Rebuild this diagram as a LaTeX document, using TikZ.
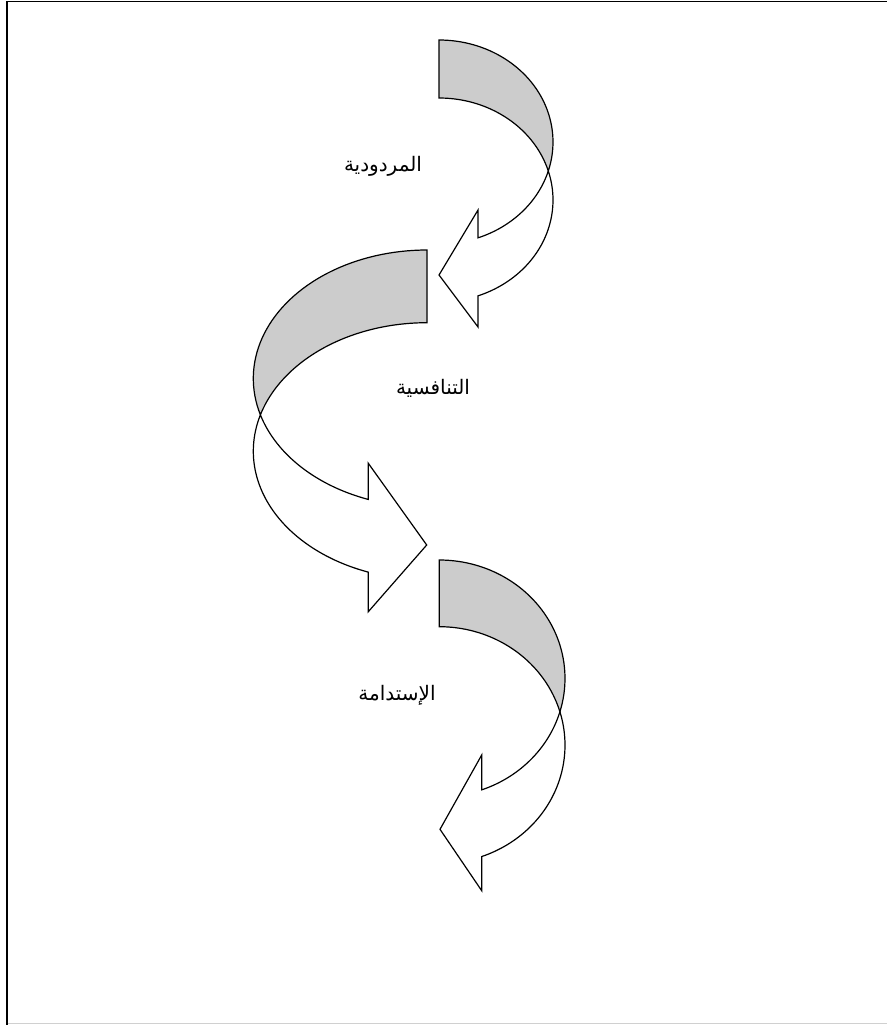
\documentclass[tikz,border=0pt]{standalone}
\usepackage{fontspec}
\newfontfamily\arabicfont[Script=Arabic]{DejaVu Sans}
\TeXXeTstate=1
\definecolor{bandgray}{HTML}{CCCCCC}
\definecolor{framegray}{HTML}{D0D0D0}
\begin{document}
\begin{tikzpicture}[x=1pt,y=-1pt,
  band/.style={draw=black,line width=1.2pt,line join=miter},
  backband/.style={band,fill=bandgray},
  frontband/.style={band,fill=white},
  lbl/.style={font=\arabicfont\fontsize{20}{24}\selectfont,inner sep=0pt},
  smp/.style={samples=50,variable=\t}]
\path[use as bounding box] (0,0) rectangle (887,1025);
% frame
\draw[line width=1.8pt] (7,1025) -- (7,1.5) -- (887,1.5);
\draw[line width=1.2pt,framegray] (8,1023.5) -- (887,1023.5);
% arrow 1 (curved left arrow)
\path[backband] plot[smp,domain=-90:16.52] ({439+114*cos(\t)},{142+102*sin(\t)})
  -- plot[smp,domain=-16.52:-90] ({439+114*cos(\t)},{200+102*sin(\t)}) -- cycle;
\path[frontband] plot[smp,domain=-16.52:70] ({439+114*cos(\t)},{200+102*sin(\t)})
  -- (478,327) -- (439,275) -- (478,210)
  -- plot[smp,domain=70:16.52] ({439+114*cos(\t)},{142+102*sin(\t)}) -- cycle;
% arrow 2 (curved right arrow)
\path[backband] plot[smp,domain=-90:16.43] ({427-173.7*cos(\t)},{378.5+128.5*sin(\t)})
  -- plot[smp,domain=-16.43:-90] ({427-173.7*cos(\t)},{451.2+128.5*sin(\t)}) -- cycle;
\path[frontband] plot[smp,domain=-16.43:70.25] ({427-173.7*cos(\t)},{451.2+128.5*sin(\t)})
  -- (368.3,611.7) -- (426.7,545) -- (368.3,463.3)
  -- plot[smp,domain=70.25:16.43] ({427-173.7*cos(\t)},{378.5+128.5*sin(\t)}) -- cycle;
% arrow 3 (curved left arrow)
\path[backband] plot[smp,domain=-90:16.36] ({439.3+125.7*cos(\t)},{678.4+118.4*sin(\t)})
  -- plot[smp,domain=-16.36:-90] ({439.3+125.7*cos(\t)},{745.1+118.4*sin(\t)}) -- cycle;
\path[frontband] plot[smp,domain=-16.36:70.29] ({439.3+125.7*cos(\t)},{745.1+118.4*sin(\t)})
  -- (481.7,890.7) -- (440,829.3) -- (481.7,755)
  -- plot[smp,domain=70.29:16.36] ({439.3+125.7*cos(\t)},{678.4+118.4*sin(\t)}) -- cycle;
% labels
\node[lbl] (t1) at (383,166) {\beginR المردودية\endR};
\node[lbl] (t2) at (433,388) {\beginR التنافسية\endR};
\node[lbl] (t3) at (397,695) {\beginR الإستدامة\endR};
\end{tikzpicture}
\end{document}
